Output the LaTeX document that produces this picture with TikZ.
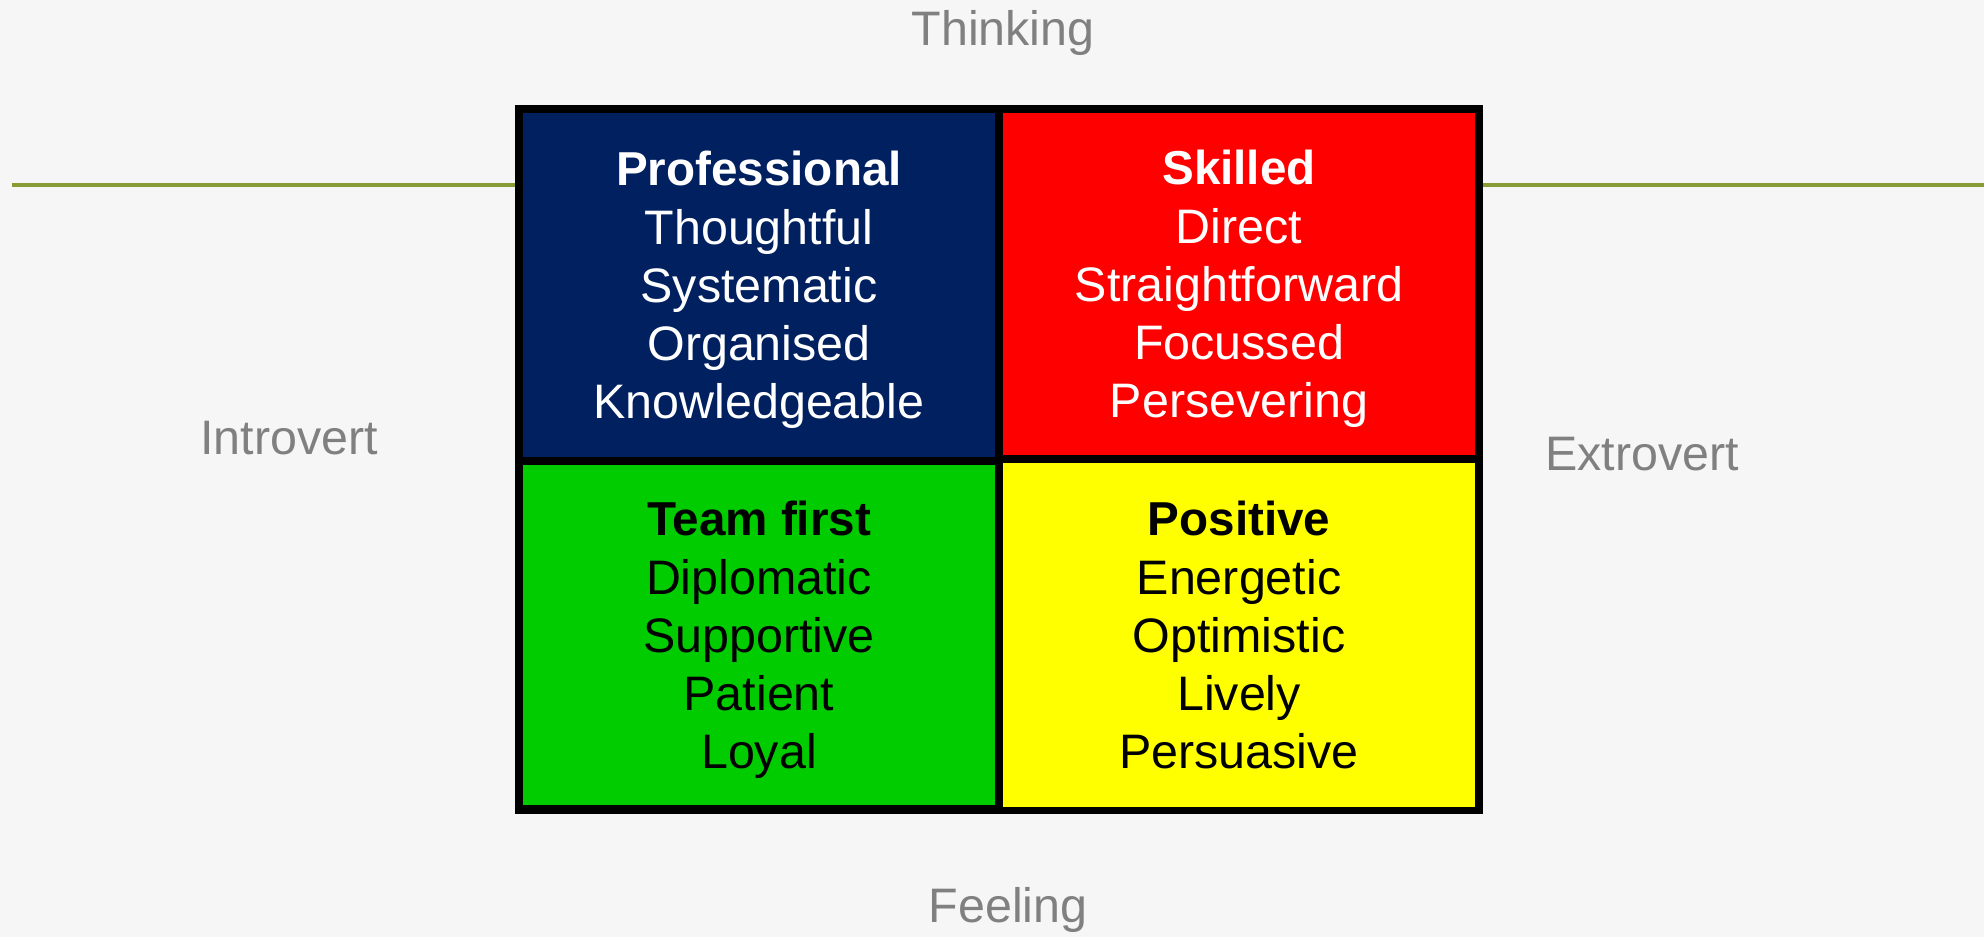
\documentclass[tikz,border=0pt]{standalone}
\usepackage{fontspec}
\setmainfont{Liberation Sans}
\definecolor{paper}{RGB}{246,246,246}
\definecolor{navycell}{RGB}{0,32,96}
\definecolor{redcell}{RGB}{255,0,0}
\definecolor{greencell}{RGB}{0,204,0}
\definecolor{yellowcell}{RGB}{255,255,0}
\definecolor{axisgray}{RGB}{128,128,128}
\definecolor{olive}{RGB}{136,156,52}
\newcommand{\topstrut}{\rule{0pt}{0.95em}}
\newcommand{\botstrut}{\rule[-0.234em]{0pt}{0.234em}}
\newcommand{\headfont}{\fontsize{23.8}{29.15}\selectfont\bfseries}
\begin{document}
\begin{tikzpicture}[x=0.5pt,y=-0.5pt,
  axislabel/.style={anchor=base, text=axisgray, font=\fontsize{24.2}{28}\selectfont},
  cell/.style={inner sep=0pt, align=center, minimum width=236pt,
    font=\fontsize{24.2}{29.15}\selectfont},
  axisline/.style={draw=olive, line width=1.75pt}]
  % page
  \fill[paper] (0,0) rectangle (1984,937);
  \useasboundingbox (0,0) rectangle (1984,937);

  % axis labels
  \node[axislabel] (think) at (1003,45) {Thinking};
  \node[axislabel] (feel) at (1008,922) {Feeling};
  \node[axislabel] (intro) at (289,454) {Introvert};
  \node[axislabel] (extro) at (1642,470) {Extrovert};

  % black frame behind the four quadrants
  \node[fill=black, inner sep=0pt, minimum width=484pt, minimum height=354.5pt]
    (grid) at (999,459.5) {};

  % horizontal axis on both sides of the grid
  \coordinate (axL) at (12,185);
  \coordinate (axR) at (1984,185);
  \draw[axisline] (axL) -- (axL -| grid.west);
  \draw[axisline] (grid.east |- axR) -- (axR);

  % quadrants
  \node[cell, fill=navycell, text=white, minimum height=172pt] (pro) at (759,285)
    {\topstrut{\headfont Professional}\\Thoughtful\\Systematic\\Organised\\Knowledgeable\botstrut};
  \node[cell, fill=redcell, text=white, minimum height=171pt] (skl) at (1239,284)
    {\topstrut{\headfont Skilled}\\Direct\\Straightforward\\Focussed\\Persevering\botstrut};
  \node[cell, fill=greencell, text=black, minimum height=170pt] (team) at (759,635)
    {\topstrut{\headfont Team first}\\Diplomatic\\Supportive\\Patient\\Loyal\botstrut};
  \node[cell, fill=yellowcell, text=black, minimum height=172pt] (pos) at (1239,635)
    {\topstrut{\headfont Positive}\\Energetic\\Optimistic\\Lively\\Persuasive\botstrut};
\end{tikzpicture}
\end{document}
